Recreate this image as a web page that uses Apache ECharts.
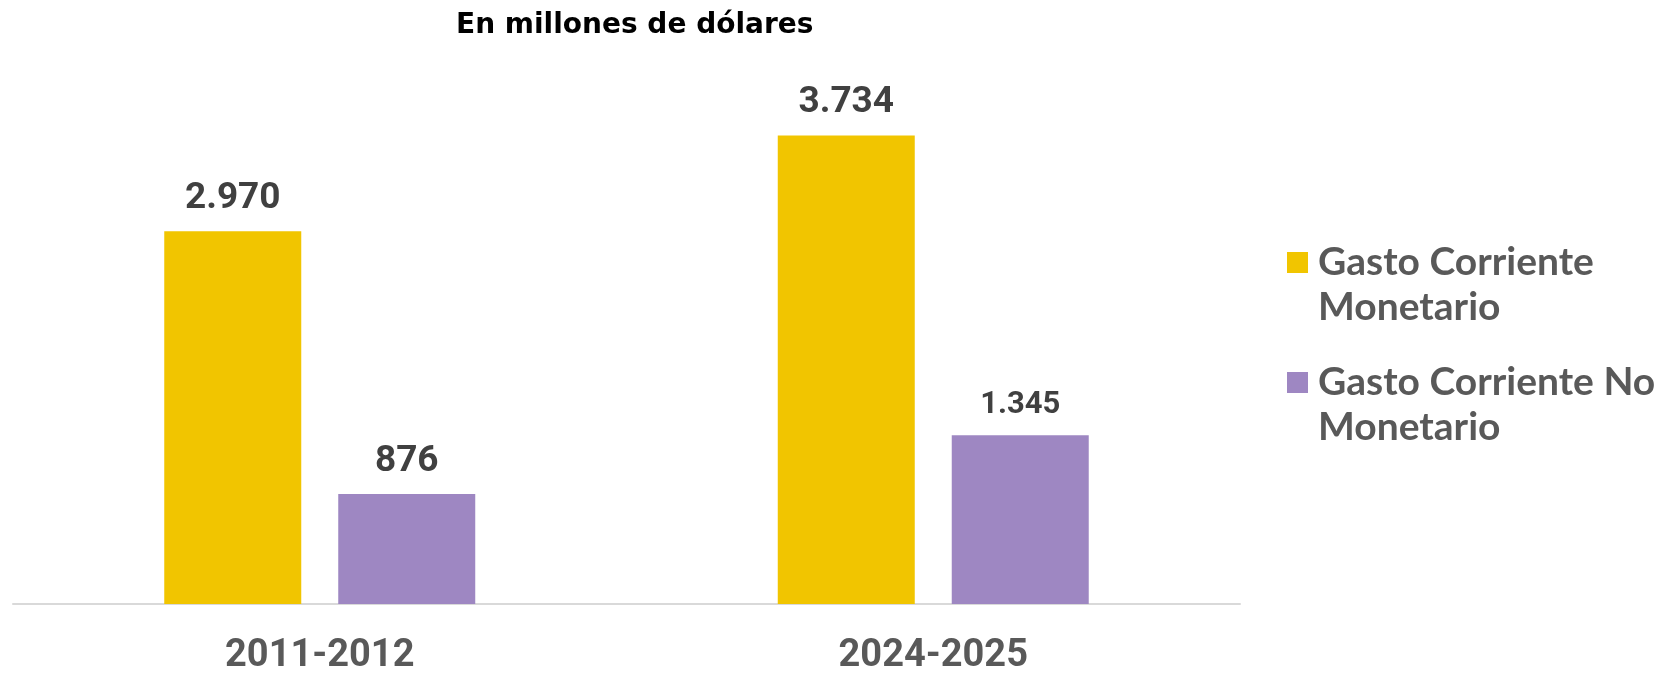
<!DOCTYPE html>
<html>
<head>
<meta charset="utf-8">
<script src="https://cdn.jsdelivr.net/npm/echarts@6/dist/echarts.min.js"></script>
<style>
html,body{margin:0;padding:0;background:#fff;}
#chart{width:1663px;height:675px;}
</style>
</head>
<body>
<div id="chart"></div>
<script>
const categories = ['2011-2012', '2024-2025'];
const seriesNames = ['Gasto Corriente Monetario', 'Gasto Corriente No Monetario'];
const monetario = [2970, 3734];
const noMonetario = [876, 1345];
const legendLines = {
  'Gasto Corriente Monetario': 'Gasto Corriente\nMonetario',
  'Gasto Corriente No Monetario': 'Gasto Corriente No\nMonetario'
};

function fmt(v) {
  return String(v).replace(/\B(?=(\d{3})+(?!\d))/g, '.');
}

const chart = echarts.init(document.getElementById('chart'));
const labelBase = {
  show: true,
  position: 'top',
  distance: 14,
  fontFamily: 'Roboto',
  fontWeight: 'bold',
  fontSize: 37,
  color: '#404040',
  formatter: p => fmt(p.value)
};
function legendFor(name, top) {
  return {
    data: [name],
    left: 1282,
    top: top,
    orient: 'vertical',
    itemWidth: 21,
    itemHeight: 21,
    icon: 'rect',
    selectedMode: false,
    formatter: n => '\n' + legendLines[n],
    textStyle: {
      fontFamily: 'Lato',
      fontWeight: 'bold',
      fontSize: 39,
      lineHeight: 45,
      color: '#595959',
      padding: [0, 0, 0, 5]
    }
  };
}
chart.setOption({
  animation: false,
  title: {
    text: 'En millones de dólares',
    left: 451,
    top: 7,
    textStyle: {
      fontFamily: 'DejaVu Sans',
      fontWeight: 'bold',
      fontSize: 28,
      color: '#000'
    }
  },
  legend: [legendFor(seriesNames[0], 190), legendFor(seriesNames[1], 310)],
  grid: { left: 13, right: 423, top: 102, bottom: 65, containLabel: false },
  xAxis: {
    type: 'category',
    data: categories,
    axisLine: { lineStyle: { color: '#d9d9d9', width: 2 } },
    axisTick: { show: false },
    axisLabel: {
      margin: 33,
      fontFamily: 'Roboto',
      fontWeight: 'bold',
      fontSize: 38,
      color: '#595959'
    }
  },
  yAxis: {
    type: 'value',
    min: 0,
    max: 4000,
    show: false,
    splitLine: { show: false }
  },
  series: [
    {
      name: seriesNames[0],
      type: 'bar',
      data: monetario,
      barWidth: 137,
      barGap: '27%',
      itemStyle: { color: '#F1C500' },
      label: labelBase
    },
    {
      name: seriesNames[1],
      type: 'bar',
      data: [
        noMonetario[0],
        { value: noMonetario[1], label: { fontSize: 31, distance: 14 } }
      ],
      barWidth: 137,
      itemStyle: { color: '#9E87C2' },
      label: labelBase
    }
  ]
});
</script>
</body>
</html>
